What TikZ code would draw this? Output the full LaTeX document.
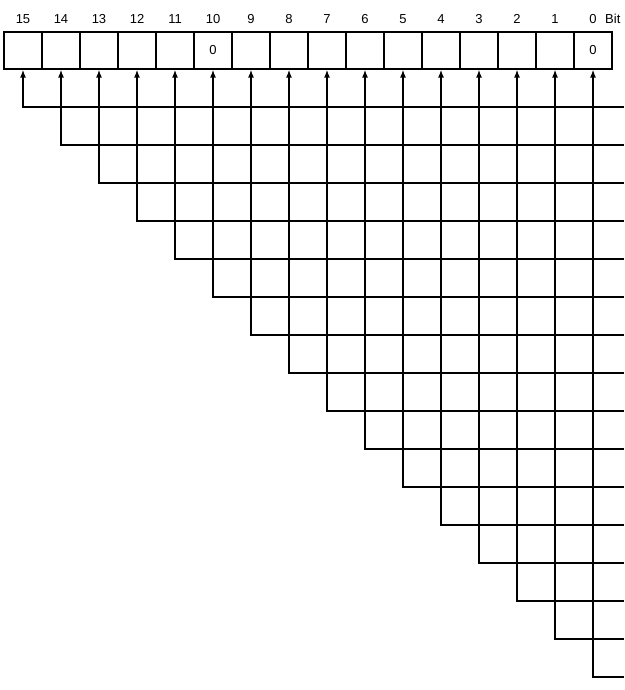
\documentclass[tikz,border=0pt]{standalone}
\usepackage{fontspec}
\setmainfont{Liberation Sans}
\usetikzlibrary{arrows.meta}
\begin{document}
\begin{tikzpicture}[x=1pt,y=-1pt,font=\fontsize{13}{15}\selectfont,
  bitbox/.style={draw,line width=1.3pt,minimum width=38pt,minimum height=37pt,inner sep=0pt},
  bitnum/.style={anchor=base,inner sep=0pt},
  wire/.style={line width=1.3pt,-{Latex[length=8pt,width=6pt]}}]
\useasboundingbox (0,0) rectangle (624,690);
\foreach \i in {0,...,15} {
  \node[bitbox] (b\i) at ({23+38*(15-\i)},50.5) {\ifnum\i=10 0\fi\ifnum\i=0 0\fi};
  \node[bitnum] (l\i) at ({23+38*(15-\i)},24) {\i};
  \coordinate (r\i) at (624,{107+38*(15-\i)});
}
\node[anchor=base west,inner sep=0pt] (bit) at (605,24) {Bit};
\foreach \i in {0,...,15}
  \draw[wire] (r\i) -| (b\i.south);
\end{tikzpicture}
\end{document}
